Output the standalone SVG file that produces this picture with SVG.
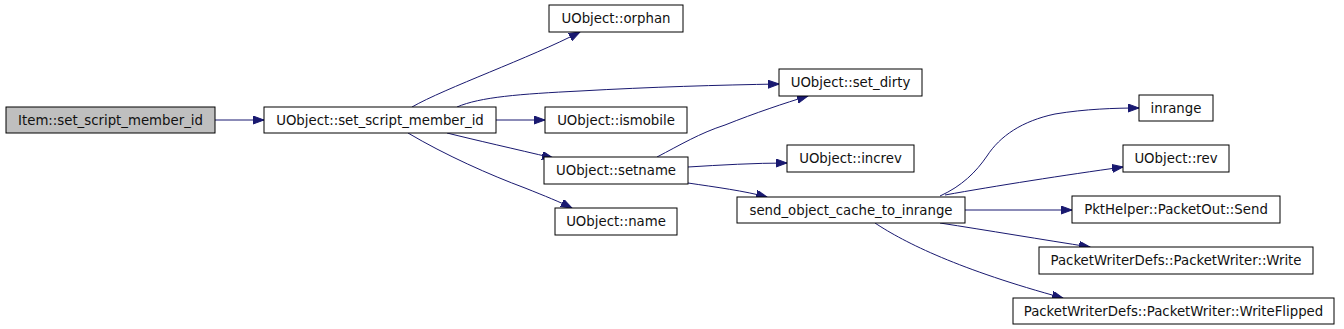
<svg xmlns="http://www.w3.org/2000/svg" width="1344" height="329" viewBox="0 0 1344 329">
<style>
.n rect{fill:#fff;stroke:#000;stroke-width:1}
.n.root rect{fill:#bfbfbf}
.n text{font-family:"DejaVu Sans",sans-serif;font-size:13.3px;fill:#111;text-anchor:middle}
.e path{fill:none;stroke:#191970;stroke-width:1;marker-end:url(#ah)}
</style>
<defs>
<marker id="ah" markerUnits="userSpaceOnUse" markerWidth="12" markerHeight="9" refX="11" refY="4" orient="auto">
<path d="M0,0 L11,4 L0,8 z" fill="#191970" stroke="#191970" stroke-width="1"/>
</marker>
</defs>
<rect width="1344" height="329" fill="#fff"/>
<g id="edges" class="e">
<path d="M215,120 L264,120"/>
<path d="M412,107 C445,88 530,58 580,32"/>
<path d="M457,107 C480,97 520,94 580,91 C650,87 720,85 779,84"/>
<path d="M496,120 L545,120"/>
<path d="M447,133 C475,140 515,149 553,158"/>
<path d="M408,133 C445,155 490,175 525,188 C545,196 560,202 572,208"/>
<path d="M657,157 C680,145 700,133 725,125 C755,113 785,103 808,96"/>
<path d="M688,167 C720,165 755,163 787,163"/>
<path d="M688,183 C715,187 745,191 767,197"/>
<path d="M940,196 C962,186 976,172 987,156 C1000,136 1022,121 1055,114 C1085,109 1115,108 1139,108"/>
<path d="M945,195 C995,186 1065,175 1123,167"/>
<path d="M965,210 L1072,210"/>
<path d="M940,223 C985,230 1045,240 1090,247"/>
<path d="M875,223 C905,243 960,270 1063,298"/>
</g>
<g id="n_item" class="n root"><rect x="6" y="107" width="209" height="26"/><text x="110.5" y="124.7">Item::set_script_member_id</text></g>
<g id="n_ssmi" class="n"><rect x="264" y="107" width="232" height="26"/><text x="380" y="124.7">UObject::set_script_member_id</text></g>
<g id="n_orphan" class="n"><rect x="549" y="5" width="134" height="27"/><text x="616" y="23.2">UObject::orphan</text></g>
<g id="n_setdirty" class="n"><rect x="779" y="69" width="143" height="27"/><text x="850.5" y="87.2">UObject::set_dirty</text></g>
<g id="n_ismobile" class="n"><rect x="545" y="107" width="142" height="26"/><text x="616" y="124.7">UObject::ismobile</text></g>
<g id="n_setname" class="n"><rect x="544" y="157" width="144" height="27"/><text x="616" y="175.2">UObject::setname</text></g>
<g id="n_name" class="n"><rect x="555" y="208" width="122" height="27"/><text x="616" y="226.2">UObject::name</text></g>
<g id="n_increv" class="n"><rect x="787" y="145" width="127" height="27"/><text x="850.5" y="163.2">UObject::increv</text></g>
<g id="n_send_obj" class="n"><rect x="737" y="197" width="228" height="26"/><text x="851" y="214.7">send_object_cache_to_inrange</text></g>
<g id="n_inrange" class="n"><rect x="1139" y="95" width="74" height="26"/><text x="1176" y="112.7">inrange</text></g>
<g id="n_rev" class="n"><rect x="1123" y="145" width="106" height="27"/><text x="1176" y="163.2">UObject::rev</text></g>
<g id="n_send" class="n"><rect x="1072" y="196" width="208" height="27"/><text x="1176" y="214.2">PktHelper::PacketOut::Send</text></g>
<g id="n_write" class="n"><rect x="1039" y="247" width="274" height="27"/><text x="1176" y="265.2">PacketWriterDefs::PacketWriter::Write</text></g>
<g id="n_writeflipped" class="n"><rect x="1013" y="298" width="321" height="26"/><text x="1173.5" y="315.7">PacketWriterDefs::PacketWriter::WriteFlipped</text></g>
</svg>
